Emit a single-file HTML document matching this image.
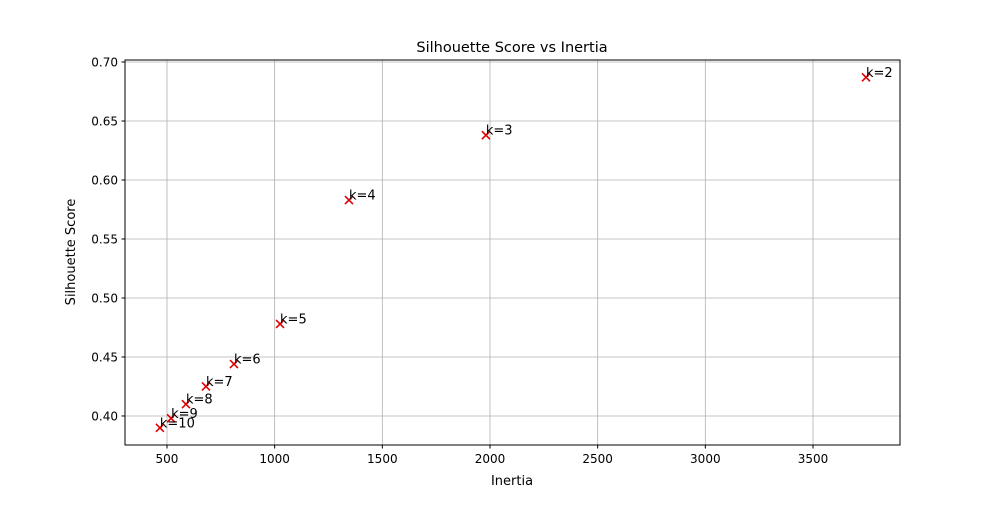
<!DOCTYPE html>
<html><head><meta charset="utf-8"><style>
body{margin:0;background:#fff;}
svg text{font-family:"DejaVu Sans","Liberation Sans",sans-serif;fill:#000;}
</style></head><body>
<svg id="chart" width="1000" height="500" xmlns="http://www.w3.org/2000/svg">
<rect width="1000" height="500" fill="#fff"/>
<g id="grid"></g><g id="ticks"></g><g id="marks"></g>
<rect x="125" y="60" width="775" height="385" fill="none" stroke="#000" stroke-width="1"/>
<text x="512" y="52" font-size="14.5" text-anchor="middle">Silhouette Score vs Inertia</text>
<text x="512" y="485" font-size="13" text-anchor="middle">Inertia</text>
<text transform="translate(75,252) rotate(-90)" font-size="13" text-anchor="middle">Silhouette Score</text>
</svg>
<script>
const labels=["k=2","k=3","k=4","k=5","k=6","k=7","k=8","k=9","k=10"];
const inertia=[3746,1981,1345,1025,811,681,588,519,467];
const silhouette=[0.687,0.638,0.583,0.478,0.444,0.425,0.410,0.398,0.390];
const xTicks=[500,1000,1500,2000,2500,3000,3500];
const yTicks=[0.40,0.45,0.50,0.55,0.60,0.65,0.70];
const yTickLabels=["0.40","0.45","0.50","0.55","0.60","0.65","0.70"];
const NS="http://www.w3.org/2000/svg";
const L=125,R=900,T=60,B=445,xMin=305,xMax=3904,yMin=0.3754,yMax=0.7017;
const sx=v=>L+(v-xMin)/(xMax-xMin)*(R-L);
const sy=v=>B-(v-yMin)/(yMax-yMin)*(B-T);
function mk(tag,attrs,parent){const e=document.createElementNS(NS,tag);for(const k in attrs)e.setAttribute(k,attrs[k]);parent.appendChild(e);return e;}
const grid=document.getElementById('grid'),ticks=document.getElementById('ticks'),marks=document.getElementById('marks');
xTicks.forEach(v=>{const x=sx(v);
 const g=mk('line',{x1:x,x2:x,y1:T,y2:B,stroke:'#b0b0b0','stroke-width':0.8},grid);
 
 
 mk('line',{x1:x,x2:x,y1:B,y2:B+3.5,stroke:'#000'},ticks);
 const t=mk('text',{x:x,y:B+18,'font-size':12,'text-anchor':'middle'},ticks);t.textContent=v;
 
 
});
yTicks.forEach((v,i)=>{const y=sy(v);
 const g=mk('line',{x1:L,x2:R,y1:y,y2:y,stroke:'#b0b0b0','stroke-width':0.8},grid);
 
 
 mk('line',{x1:L-3.5,x2:L,y1:y,y2:y,stroke:'#000'},ticks);
 const t=mk('text',{x:L-7,y:y+4.5,'font-size':12,'text-anchor':'end'},ticks);t.textContent=yTickLabels[i];
 
 
});
inertia.forEach((v,i)=>{const x=sx(v),y=sy(silhouette[i]),s=4;
 const p=mk('path',{d:`M${x-s},${y-s}L${x+s},${y+s}M${x-s},${y+s}L${x+s},${y-s}`,stroke:'#e00000','stroke-width':1.6,fill:'none'},marks);
 
 
 const t=mk('text',{x:x,y:y-0.5,'font-size':13},marks);t.textContent=labels[i];
 
 
});
</script>
</body></html>
